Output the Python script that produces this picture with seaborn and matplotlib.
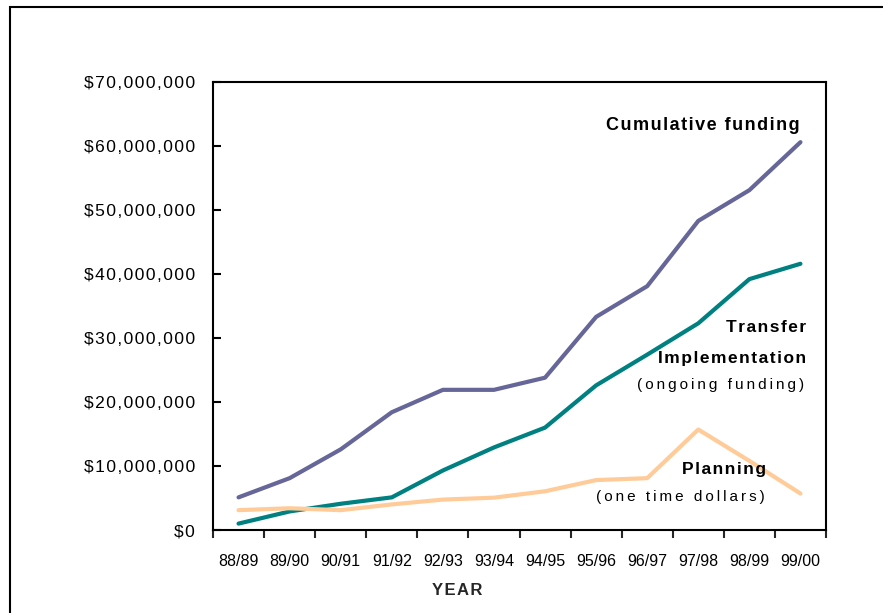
import numpy as np
import pandas as pd
import matplotlib
matplotlib.use('Agg')
import matplotlib.pyplot as plt
import matplotlib.ticker as mticker
from matplotlib.patches import Rectangle
import seaborn as sns

# Fiscal years on the x axis
years = ['88/89', '89/90', '90/91', '91/92', '92/93', '93/94',
         '94/95', '95/96', '96/97', '97/98', '98/99', '99/00']

# Funding in millions of dollars
cumulative_musd = [5.1, 8.1, 12.6, 18.4, 21.9, 21.9, 23.8, 33.3, 38.1, 48.3, 53.1, 60.6]
transfer_musd = [1.0, 2.9, 4.1, 5.1, 9.3, 12.9, 16.0, 22.6, 27.4, 32.3, 39.2, 41.6]
planning_musd = [3.1, 3.4, 3.1, 4.0, 4.75, 5.05, 6.05, 7.8, 8.1, 15.7, 10.8, 5.7]

series_names = ['Transfer Implementation', 'Planning', 'Cumulative funding']
series_colors = {'Transfer Implementation': '#008080',
                 'Planning': '#FFCC99',
                 'Cumulative funding': '#666699'}

HAIR = '\u200a'
THIN = '\u2009'


def spaced(text, gap=HAIR):
    """Widen the letter spacing the way the original chart does."""
    return gap.join(text)


# Build a long-format table for seaborn
df = pd.concat([
    pd.DataFrame({'Year': years, 'Funding': np.array(transfer_musd) * 1e6,
                  'Series': 'Transfer Implementation'}),
    pd.DataFrame({'Year': years, 'Funding': np.array(planning_musd) * 1e6,
                  'Series': 'Planning'}),
    pd.DataFrame({'Year': years, 'Funding': np.array(cumulative_musd) * 1e6,
                  'Series': 'Cumulative funding'}),
], ignore_index=True)

sns.set_style('white')
plt.rcParams['font.family'] = ['Liberation Sans', 'DejaVu Sans']

fig = plt.figure(figsize=(8.83, 6.13), dpi=100)
ax = fig.add_axes([213 / 883, 1 - 530 / 613, 613 / 883, 448 / 613])

sns.lineplot(data=df, x='Year', y='Funding', hue='Series', hue_order=series_names,
             palette=series_colors, linewidth=3.0, legend=False, sort=False, ax=ax)

# Axes limits and ticks
ax.set_xlim(-0.5, len(years) - 0.5)
ax.set_ylim(0, 70e6)
ax.yaxis.set_major_locator(mticker.MultipleLocator(10e6))
ax.yaxis.set_major_formatter(mticker.FuncFormatter(lambda v, p: spaced(f'${v:,.0f}')))
ax.tick_params(axis='y', direction='in', length=5.5, width=1.5, pad=13,
               labelsize=12.5, colors='black', left=True, right=False)

ax.set_xticks(range(len(years)))
ax.set_xticklabels(years)
ax.set_xticks(np.arange(-0.5, len(years), 1.0), minor=True)
ax.tick_params(axis='x', which='major', length=0, pad=17, labelsize=11.5, colors='black')
ax.tick_params(axis='x', which='minor', direction='out', length=6, width=1.5,
               bottom=True, top=False)

for side in ['left', 'right', 'top', 'bottom']:
    ax.spines[side].set_visible(True)
    ax.spines[side].set_color('black')
    ax.spines[side].set_linewidth(1.5)

ax.set_ylabel('')
ax.set_xlabel(spaced('YEAR'), fontsize=12, fontweight='bold')
ax.xaxis.set_label_coords(0.398, -0.134)
ax.xaxis.label.set_verticalalignment('center')
ax.grid(False)

# Series annotations
bold_kw = dict(transform=ax.transAxes, ha='right', va='center', fontsize=12.5,
               fontweight='bold', color='black')
note_kw = dict(transform=ax.transAxes, ha='right', va='center', fontsize=11,
               color='black')
ax.text(0.957, 0.904, spaced('Cumulative funding'), **dict(bold_kw, fontsize=13))
ax.text(0.967, 0.451, spaced('Transfer'), **bold_kw)
ax.text(0.967, 0.383, spaced('Implementation'), **bold_kw)
ax.text(0.965, 0.324, spaced('(ongoing funding)', THIN), **note_kw)
ax.text(0.902, 0.134, spaced('Planning'), **bold_kw)
ax.text(0.900, 0.074, spaced('(one time dollars)', THIN), **note_kw)

# Outer frame around the whole graphic (runs off the right and bottom edges)
frame = Rectangle((10 / 883, -0.1), 1.2, 1.1 - 7 / 613, transform=fig.transFigure,
                  fill=False, edgecolor='black', linewidth=1.5, clip_on=False)
fig.patches.append(frame)

fig.savefig('out.png', dpi=100, facecolor='white')
